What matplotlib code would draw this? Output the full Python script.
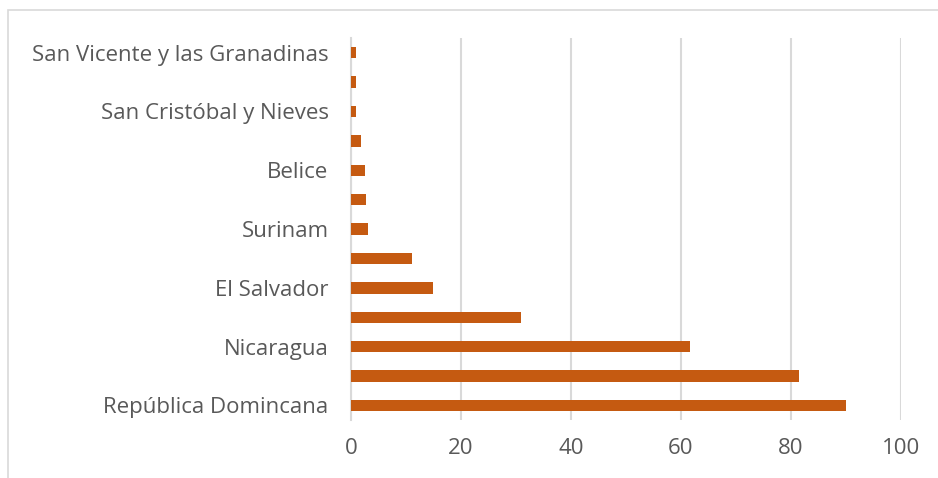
import matplotlib.pyplot as plt
from matplotlib.patches import Rectangle

# bottom to top, only every other category has a visible label
countries = ["República Domincana", "", "Nicaragua", "", "El Salvador", "",
             "Surinam", "", "Belice", "", "San Cristóbal y Nieves", "",
             "San Vicente y las Granadinas"]
values = [90.0, 81.4, 61.7, 31.0, 15.0, 11.1, 3.2, 2.8, 2.6, 1.8, 0.9, 0.9, 0.9]
x_ticks = [0, 20, 40, 60, 80, 100]

plt.rcParams['font.family'] = ['Open Sans', 'DejaVu Sans']

fig = plt.figure(figsize=(9.38, 4.78), dpi=100)
ax = fig.add_axes([0.374, 0.121, 0.5866, 0.7995])

# thin outer frame of the original chart box (cropped at right/bottom)
fig.patches.append(Rectangle((8 / 938, -0.1), 1.2, 1 - 10 / 478 + 0.1,
                             transform=fig.transFigure, fill=False,
                             edgecolor='#d9d9d9', linewidth=1.2))

pos = range(len(values))
ax.barh(pos, values, height=0.39, color='#C55A11', zorder=3)

ax.set_xlim(0, 100)
ax.set_ylim(-0.5, len(values) - 0.5)
ax.set_xticks(x_ticks)
ax.set_yticks(list(pos))
ax.set_yticklabels(countries)
ax.grid(axis='x', color='#d9d9d9', linewidth=1.5, zorder=0)
ax.tick_params(length=0, labelsize=16, labelcolor='#595959')
ax.tick_params(axis='y', pad=16)
ax.tick_params(axis='x', pad=13)
for side in ['top', 'right', 'bottom']:
    ax.spines[side].set_visible(False)
ax.spines['left'].set_color('#d9d9d9')
ax.spines['left'].set_linewidth(1.5)

plt.savefig('out.png', dpi=100)
